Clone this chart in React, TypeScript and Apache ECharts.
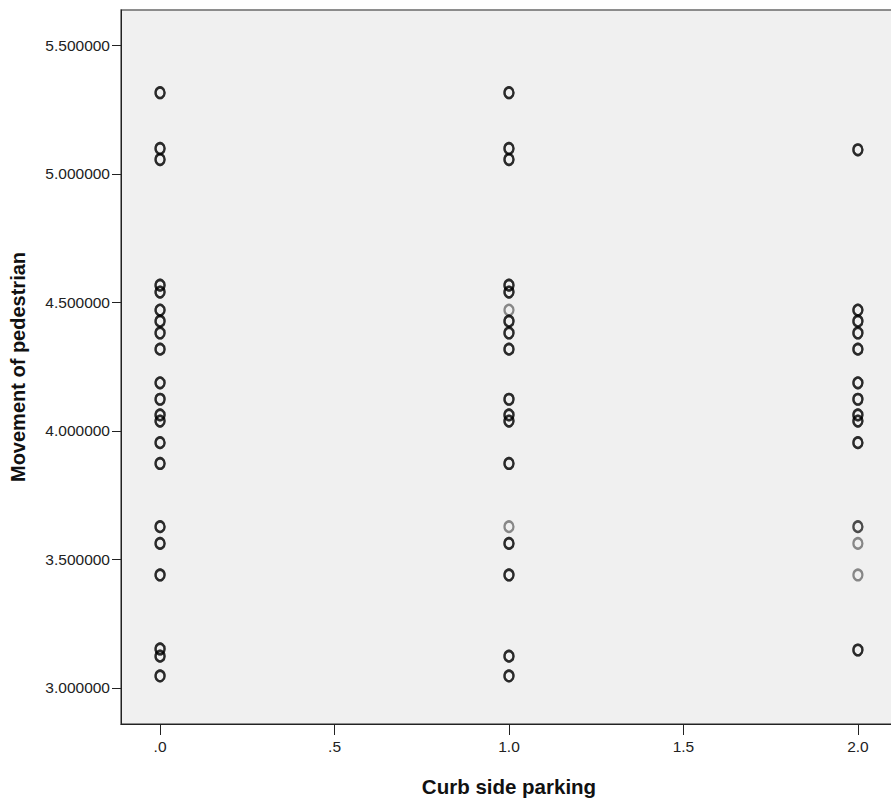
import React, { useEffect, useRef } from "react";
import * as echarts from "echarts";

// Curb side parking category positions (x) and observed values of "Movement of pedestrian" (y)
const parkingLevels = [0, 1, 2];

const noneValues = [5.316, 5.099, 5.056, 4.567, 4.540, 4.470, 4.427, 4.381, 4.318, 4.187, 4.123, 4.062, 4.038, 3.954, 3.873, 3.627, 3.562, 3.439, 3.151, 3.123, 3.046];
const noneCounts = [3, 3, 3, 3, 3, 3, 3, 3, 3, 3, 3, 3, 3, 3, 3, 3, 3, 3, 3, 3, 3];

const oneValues = [5.316, 5.099, 5.056, 4.567, 4.540, 4.470, 4.427, 4.381, 4.318, 4.123, 4.062, 4.038, 3.873, 3.627, 3.562, 3.439, 3.123, 3.046];
const oneCounts = [3, 3, 3, 3, 3, 1, 3, 3, 3, 3, 3, 3, 3, 1, 3, 3, 3, 3];

const twoValues = [5.094, 4.470, 4.427, 4.381, 4.318, 4.187, 4.123, 4.062, 4.038, 3.954, 3.627, 3.562, 3.439, 3.147];
const twoCounts = [3, 3, 3, 3, 3, 3, 3, 3, 3, 3, 2, 1, 1, 3];

const yTicks = [3.0, 3.5, 4.0, 4.5, 5.0, 5.5];
const xTicks = [0, 0.5, 1.0, 1.5, 2.0];

const xTitle = "Curb side parking";
const yTitle = "Movement of pedestrian";

function buildPoints(): number[][] {
  const cols = [
    [noneValues, noneCounts],
    [oneValues, oneCounts],
    [twoValues, twoCounts],
  ];
  const pts: number[][] = [];
  cols.forEach(([vals, counts], i) => {
    vals.forEach((v, j) => {
      for (let k = 0; k < counts[j]; k++) pts.push([parkingLevels[i], v]);
    });
  });
  return pts;
}

const FONT = "'Liberation Sans', Arial, sans-serif";

export default function App() {
  const ref = useRef<HTMLDivElement>(null);
  useEffect(() => {
    if (!ref.current) return;
    const chart = echarts.init(ref.current, null, { renderer: "svg" });
    chart.setOption({
      animation: false,
      backgroundColor: "#ffffff",
      grid: {
        left: 121,
        top: 10,
        width: 776,
        height: 714,
        outerBoundsMode: "none",
        containLabel: false,
        show: true,
        backgroundColor: "#f0f0f0",
        borderColor: "#6a6a6a",
        borderWidth: 1.5,
      },
      xAxis: {
        type: "value",
        min: -0.112,
        max: 2.112,
        name: xTitle,
        nameLocation: "middle",
        nameGap: 52,
        nameTextStyle: { fontFamily: FONT, fontSize: 20.5, fontWeight: "bold", color: "#111" },
        axisLine: { show: true, onZero: false, lineStyle: { color: "#222", width: 1 } },
        axisTick: { show: true, length: 11, customValues: xTicks, lineStyle: { color: "#222" } },
        axisLabel: {
          customValues: xTicks,
          margin: 14,
          fontFamily: FONT,
          fontSize: 15.5,
          color: "#222",
          formatter: (v: number) => {
            const s = v.toFixed(1);
            return s.startsWith("0") ? s.slice(1) : s;
          },
        },
        splitLine: { show: false },
      },
      yAxis: {
        type: "value",
        min: 2.859,
        max: 5.638,
        name: yTitle,
        nameLocation: "middle",
        nameRotate: 90,
        nameGap: 93,
        nameTextStyle: { fontFamily: FONT, fontSize: 20, fontWeight: "bold", color: "#111" },
        axisLine: { show: true, onZero: false, lineStyle: { color: "#222", width: 1 } },
        axisTick: { show: true, length: 9, customValues: yTicks, lineStyle: { color: "#222" } },
        axisLabel: {
          customValues: yTicks,
          margin: 11,
          fontFamily: FONT,
          fontSize: 15.5,
          color: "#222",
          formatter: (v: number) => v.toFixed(6),
        },
        splitLine: { show: false },
      },
      series: [
        {
          type: "scatter",
          data: buildPoints(),
          symbol: "circle",
          symbolSize: [9, 10.5],
          itemStyle: {
            color: "rgba(0,0,0,0)",
            borderColor: "rgba(0,0,0,0.55)",
            borderWidth: 2.4,
          },
          emphasis: { disabled: true },
        },
      ],
    });
    return () => chart.dispose();
  }, []);
  return (
    <div
      ref={ref}
      style={{ position: "fixed", left: 0, top: 0, width: 891, height: 798, background: "#fff" }}
    />
  );
}
